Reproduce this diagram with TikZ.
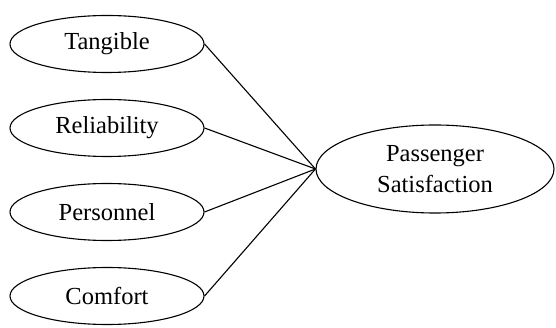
\documentclass[tikz,border=0pt]{standalone}
\usepackage{fontspec}
\setmainfont{Liberation Serif}
\newfontfamily\labelfont{Liberation Serif}
\usetikzlibrary{shapes.geometric}
\begin{document}
\begin{tikzpicture}[x=1pt,y=-1pt,
  construct/.style={draw, ellipse, line width=1.1pt, inner sep=0pt,
    minimum width=194pt, minimum height=57pt,
    font=\labelfont\fontsize{24.5pt}{31pt}\selectfont, align=center},
  outcome/.style={construct, minimum width=238pt, minimum height=88pt},
  link/.style={line width=1.1pt}]
  \useasboundingbox (0,0) rectangle (556,328);
  \node[construct] (tan) at (107,44) {Tangible};
  \node[construct] (rel) at (107,128) {Reliability};
  \node[construct] (per) at (107,212) {Personnel};
  \node[construct] (com) at (107,296) {Comfort};
  \node[outcome] (ps) at (435,169) {Passenger\\Satisfaction};
  \foreach \n in {tan,rel,per,com}
    \draw[link] (\n.east) -- (ps.west);
\end{tikzpicture}
\end{document}
